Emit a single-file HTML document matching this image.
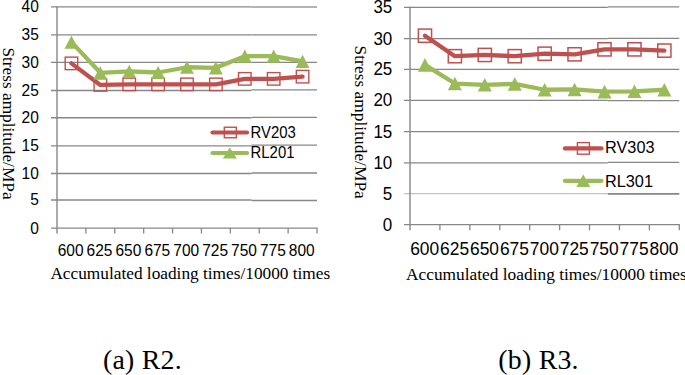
<!DOCTYPE html>
<html><head><meta charset="utf-8"><style>
html,body{margin:0;padding:0;background:#fff;overflow:hidden;width:685px;height:375px;}
svg{display:block;}
.s{font-family:"Liberation Sans",sans-serif;fill:#000;}
.t{font-family:"Liberation Serif",serif;fill:#000;}
</style></head><body>
<svg width="685" height="375" viewBox="0 0 685 375">
<rect width="685" height="375" fill="#fff"/>
<line x1="51.00" y1="200.00" x2="251.50" y2="200.00" stroke="#878787" stroke-width="1.3"/>
<line x1="251.50" y1="200.50" x2="317.00" y2="200.50" stroke="#878787" stroke-width="1.3"/>
<line x1="51.00" y1="173.50" x2="251.50" y2="173.50" stroke="#878787" stroke-width="1.3"/>
<line x1="251.50" y1="173.00" x2="317.00" y2="173.00" stroke="#878787" stroke-width="1.3"/>
<line x1="51.00" y1="145.90" x2="251.50" y2="145.90" stroke="#878787" stroke-width="1.3"/>
<line x1="251.50" y1="145.10" x2="317.00" y2="145.10" stroke="#878787" stroke-width="1.3"/>
<line x1="51.00" y1="117.80" x2="251.50" y2="117.80" stroke="#878787" stroke-width="1.5"/>
<line x1="251.50" y1="117.40" x2="317.00" y2="117.40" stroke="#878787" stroke-width="1.3"/>
<line x1="51.00" y1="90.50" x2="251.50" y2="90.50" stroke="#878787" stroke-width="1.3"/>
<line x1="251.50" y1="89.80" x2="317.00" y2="89.80" stroke="#878787" stroke-width="1.3"/>
<line x1="51.00" y1="62.40" x2="251.50" y2="62.40" stroke="#878787" stroke-width="1.3"/>
<line x1="251.50" y1="62.30" x2="317.00" y2="62.30" stroke="#878787" stroke-width="1.3"/>
<line x1="51.00" y1="34.90" x2="251.50" y2="34.90" stroke="#878787" stroke-width="1.3"/>
<line x1="251.50" y1="34.80" x2="317.00" y2="34.80" stroke="#878787" stroke-width="1.3"/>
<line x1="51.00" y1="6.95" x2="251.50" y2="6.95" stroke="#878787" stroke-width="1.3"/>
<line x1="251.50" y1="6.90" x2="317.00" y2="6.90" stroke="#9a9a9a" stroke-width="1.5"/>
<line x1="51.00" y1="228.10" x2="317.60" y2="228.10" stroke="#878787" stroke-width="1.3"/>
<line x1="57.00" y1="6.35" x2="57.00" y2="233.50" stroke="#878787" stroke-width="1.4"/>
<line x1="85.89" y1="228.10" x2="85.89" y2="233.50" stroke="#878787" stroke-width="1.3"/>
<line x1="114.78" y1="228.10" x2="114.78" y2="233.50" stroke="#878787" stroke-width="1.3"/>
<line x1="143.67" y1="228.10" x2="143.67" y2="233.50" stroke="#878787" stroke-width="1.3"/>
<line x1="172.56" y1="228.10" x2="172.56" y2="233.50" stroke="#878787" stroke-width="1.3"/>
<line x1="201.44" y1="228.10" x2="201.44" y2="233.50" stroke="#878787" stroke-width="1.3"/>
<line x1="230.33" y1="228.10" x2="230.33" y2="233.50" stroke="#878787" stroke-width="1.3"/>
<line x1="259.22" y1="228.10" x2="259.22" y2="233.50" stroke="#878787" stroke-width="1.3"/>
<line x1="288.11" y1="228.10" x2="288.11" y2="233.50" stroke="#878787" stroke-width="1.3"/>
<line x1="317.00" y1="228.10" x2="317.00" y2="233.50" stroke="#878787" stroke-width="1.3"/>
<text transform="translate(38.80,233.50) scale(1,1.03)" text-anchor="end" class="s" font-size="15.5">0</text>
<text transform="translate(38.80,205.40) scale(1,1.03)" text-anchor="end" class="s" font-size="15.5">5</text>
<text transform="translate(38.80,178.90) scale(1,1.03)" text-anchor="end" class="s" font-size="15.5">10</text>
<text transform="translate(38.80,151.30) scale(1,1.03)" text-anchor="end" class="s" font-size="15.5">15</text>
<text transform="translate(38.80,123.20) scale(1,1.03)" text-anchor="end" class="s" font-size="15.5">20</text>
<text transform="translate(38.80,95.90) scale(1,1.03)" text-anchor="end" class="s" font-size="15.5">25</text>
<text transform="translate(38.80,67.80) scale(1,1.03)" text-anchor="end" class="s" font-size="15.5">30</text>
<text transform="translate(38.80,40.30) scale(1,1.03)" text-anchor="end" class="s" font-size="15.5">35</text>
<text transform="translate(38.80,12.35) scale(1,1.03)" text-anchor="end" class="s" font-size="15.5">40</text>
<text transform="translate(70.64,256.00) scale(1,1.03)" text-anchor="middle" class="s" font-size="15.5">600</text>
<text transform="translate(99.53,256.00) scale(1,1.03)" text-anchor="middle" class="s" font-size="15.5">625</text>
<text transform="translate(128.42,256.00) scale(1,1.03)" text-anchor="middle" class="s" font-size="15.5">650</text>
<text transform="translate(157.31,256.00) scale(1,1.03)" text-anchor="middle" class="s" font-size="15.5">675</text>
<text transform="translate(186.20,256.00) scale(1,1.03)" text-anchor="middle" class="s" font-size="15.5">700</text>
<text transform="translate(215.09,256.00) scale(1,1.03)" text-anchor="middle" class="s" font-size="15.5">725</text>
<text transform="translate(243.98,256.00) scale(1,1.03)" text-anchor="middle" class="s" font-size="15.5">750</text>
<text transform="translate(272.87,256.00) scale(1,1.03)" text-anchor="middle" class="s" font-size="15.5">775</text>
<text transform="translate(301.76,256.00) scale(1,1.03)" text-anchor="middle" class="s" font-size="15.5">800</text>
<polyline points="71.44,63.38 100.33,84.94 129.22,84.38 158.11,84.38 187.00,84.38 215.89,84.38 244.78,78.86 273.67,78.86 302.56,76.65" fill="none" stroke="#C0504D" stroke-width="4.3" stroke-linejoin="round" stroke-linecap="round"/>
<rect x="65.19" y="57.13" width="12.5" height="12.5" fill="none" stroke="#C0504D" stroke-width="1.4"/>
<rect x="94.08" y="78.69" width="12.5" height="12.5" fill="none" stroke="#C0504D" stroke-width="1.4"/>
<rect x="122.97" y="78.13" width="12.5" height="12.5" fill="none" stroke="#C0504D" stroke-width="1.4"/>
<rect x="151.86" y="78.13" width="12.5" height="12.5" fill="none" stroke="#C0504D" stroke-width="1.4"/>
<rect x="180.75" y="78.13" width="12.5" height="12.5" fill="none" stroke="#C0504D" stroke-width="1.4"/>
<rect x="209.64" y="78.13" width="12.5" height="12.5" fill="none" stroke="#C0504D" stroke-width="1.4"/>
<rect x="238.53" y="72.61" width="12.5" height="12.5" fill="none" stroke="#C0504D" stroke-width="1.4"/>
<rect x="267.42" y="72.61" width="12.5" height="12.5" fill="none" stroke="#C0504D" stroke-width="1.4"/>
<rect x="296.31" y="70.40" width="12.5" height="12.5" fill="none" stroke="#C0504D" stroke-width="1.4"/>
<polyline points="71.44,42.10 100.33,72.78 129.22,71.40 158.11,72.50 187.00,67.25 215.89,67.80 244.78,56.19 273.67,56.19 302.56,61.45" fill="none" stroke="#9BBB59" stroke-width="4.3" stroke-linejoin="round" stroke-linecap="round"/>
<polygon points="71.44,35.50 78.34,48.70 64.54,48.70" fill="#9BBB59"/>
<polygon points="100.33,66.18 107.23,79.38 93.43,79.38" fill="#9BBB59"/>
<polygon points="129.22,64.80 136.12,78.00 122.32,78.00" fill="#9BBB59"/>
<polygon points="158.11,65.90 165.01,79.10 151.21,79.10" fill="#9BBB59"/>
<polygon points="187.00,60.65 193.90,73.85 180.10,73.85" fill="#9BBB59"/>
<polygon points="215.89,61.20 222.79,74.40 208.99,74.40" fill="#9BBB59"/>
<polygon points="244.78,49.59 251.68,62.79 237.88,62.79" fill="#9BBB59"/>
<polygon points="273.67,49.59 280.57,62.79 266.77,62.79" fill="#9BBB59"/>
<polygon points="302.56,54.85 309.46,68.05 295.66,68.05" fill="#9BBB59"/>
<line x1="212.50" y1="132.50" x2="247.00" y2="132.50" stroke="#C0504D" stroke-width="4.2" stroke-linecap="round"/>
<rect x="224.30" y="127.25" width="12" height="10.5" fill="none" stroke="#C0504D" stroke-width="1.4"/>
<line x1="212.50" y1="153.00" x2="247.00" y2="153.00" stroke="#9BBB59" stroke-width="4.2" stroke-linecap="round"/>
<polygon points="229.80,147.50 236.80,158.50 222.80,158.50" fill="#9BBB59"/>
<text transform="translate(250.60,137.80) scale(0.98,1.08)" class="s" font-size="15.2">RV203</text>
<text transform="translate(250.60,157.90) scale(0.98,1.08)" class="s" font-size="15.2">RL201</text>
<line x1="404.00" y1="193.65" x2="607.80" y2="193.65" stroke="#c4c4c4" stroke-width="1.2"/>
<line x1="607.80" y1="193.85" x2="679.30" y2="193.85" stroke="#878787" stroke-width="1.6"/>
<line x1="404.00" y1="162.90" x2="607.80" y2="162.90" stroke="#878787" stroke-width="1.4"/>
<line x1="607.80" y1="162.40" x2="679.30" y2="162.40" stroke="#878787" stroke-width="1.2"/>
<line x1="404.00" y1="131.70" x2="607.80" y2="131.70" stroke="#878787" stroke-width="1.3"/>
<line x1="607.80" y1="131.60" x2="679.30" y2="131.60" stroke="#878787" stroke-width="1.3"/>
<line x1="404.00" y1="100.30" x2="607.80" y2="100.30" stroke="#878787" stroke-width="1.3"/>
<line x1="607.80" y1="100.60" x2="679.30" y2="100.60" stroke="#878787" stroke-width="1.4"/>
<line x1="404.00" y1="69.30" x2="607.80" y2="69.30" stroke="#878787" stroke-width="1.3"/>
<line x1="607.80" y1="69.30" x2="679.30" y2="69.30" stroke="#878787" stroke-width="1.3"/>
<line x1="404.00" y1="38.70" x2="607.80" y2="38.70" stroke="#878787" stroke-width="1.3"/>
<line x1="607.80" y1="38.40" x2="679.30" y2="38.40" stroke="#878787" stroke-width="1.3"/>
<line x1="404.00" y1="7.30" x2="607.80" y2="7.30" stroke="#878787" stroke-width="1.3"/>
<line x1="607.80" y1="6.90" x2="679.30" y2="6.90" stroke="#878787" stroke-width="1.3"/>
<line x1="404.00" y1="224.60" x2="679.90" y2="224.60" stroke="#878787" stroke-width="1.3"/>
<line x1="410.00" y1="6.70" x2="410.00" y2="230.30" stroke="#878787" stroke-width="1.4"/>
<line x1="439.92" y1="224.60" x2="439.92" y2="230.30" stroke="#878787" stroke-width="1.3"/>
<line x1="469.84" y1="224.60" x2="469.84" y2="230.30" stroke="#878787" stroke-width="1.3"/>
<line x1="499.77" y1="224.60" x2="499.77" y2="230.30" stroke="#878787" stroke-width="1.3"/>
<line x1="529.69" y1="224.60" x2="529.69" y2="230.30" stroke="#878787" stroke-width="1.3"/>
<line x1="559.61" y1="224.60" x2="559.61" y2="230.30" stroke="#878787" stroke-width="1.3"/>
<line x1="589.53" y1="224.60" x2="589.53" y2="230.30" stroke="#878787" stroke-width="1.3"/>
<line x1="619.46" y1="224.60" x2="619.46" y2="230.30" stroke="#878787" stroke-width="1.3"/>
<line x1="649.38" y1="224.60" x2="649.38" y2="230.30" stroke="#878787" stroke-width="1.3"/>
<line x1="679.30" y1="224.60" x2="679.30" y2="230.30" stroke="#878787" stroke-width="1.3"/>
<text transform="translate(392.30,230.60) scale(1,1.06)" text-anchor="end" class="s" font-size="17">0</text>
<text transform="translate(392.30,199.65) scale(1,1.06)" text-anchor="end" class="s" font-size="17">5</text>
<text transform="translate(392.30,168.90) scale(1,1.06)" text-anchor="end" class="s" font-size="17">10</text>
<text transform="translate(392.30,137.70) scale(1,1.06)" text-anchor="end" class="s" font-size="17">15</text>
<text transform="translate(392.30,106.30) scale(1,1.06)" text-anchor="end" class="s" font-size="17">20</text>
<text transform="translate(392.30,75.30) scale(1,1.06)" text-anchor="end" class="s" font-size="17">25</text>
<text transform="translate(392.30,44.70) scale(1,1.06)" text-anchor="end" class="s" font-size="17">30</text>
<text transform="translate(392.30,13.30) scale(1,1.06)" text-anchor="end" class="s" font-size="17">35</text>
<text transform="translate(424.66,255.00) scale(1,1.06)" text-anchor="middle" class="s" font-size="17.4">600</text>
<text transform="translate(454.58,255.00) scale(1,1.06)" text-anchor="middle" class="s" font-size="17.4">625</text>
<text transform="translate(484.51,255.00) scale(1,1.06)" text-anchor="middle" class="s" font-size="17.4">650</text>
<text transform="translate(514.43,255.00) scale(1,1.06)" text-anchor="middle" class="s" font-size="17.4">675</text>
<text transform="translate(544.35,255.00) scale(1,1.06)" text-anchor="middle" class="s" font-size="17.4">700</text>
<text transform="translate(574.27,255.00) scale(1,1.06)" text-anchor="middle" class="s" font-size="17.4">725</text>
<text transform="translate(604.19,255.00) scale(1,1.06)" text-anchor="middle" class="s" font-size="17.4">750</text>
<text transform="translate(634.12,255.00) scale(1,1.06)" text-anchor="middle" class="s" font-size="17.4">775</text>
<text transform="translate(664.04,255.00) scale(1,1.06)" text-anchor="middle" class="s" font-size="17.4">800</text>
<polyline points="424.96,35.69 454.88,56.19 484.81,54.95 514.73,56.19 544.65,53.71 574.57,54.33 604.49,49.36 634.42,49.36 664.34,50.60" fill="none" stroke="#C0504D" stroke-width="4.3" stroke-linejoin="round" stroke-linecap="round"/>
<rect x="418.36" y="29.09" width="13.2" height="13.2" fill="none" stroke="#C0504D" stroke-width="1.5"/>
<rect x="448.28" y="49.59" width="13.2" height="13.2" fill="none" stroke="#C0504D" stroke-width="1.5"/>
<rect x="478.21" y="48.35" width="13.2" height="13.2" fill="none" stroke="#C0504D" stroke-width="1.5"/>
<rect x="508.13" y="49.59" width="13.2" height="13.2" fill="none" stroke="#C0504D" stroke-width="1.5"/>
<rect x="538.05" y="47.11" width="13.2" height="13.2" fill="none" stroke="#C0504D" stroke-width="1.5"/>
<rect x="567.97" y="47.73" width="13.2" height="13.2" fill="none" stroke="#C0504D" stroke-width="1.5"/>
<rect x="597.89" y="42.76" width="13.2" height="13.2" fill="none" stroke="#C0504D" stroke-width="1.5"/>
<rect x="627.82" y="42.76" width="13.2" height="13.2" fill="none" stroke="#C0504D" stroke-width="1.5"/>
<rect x="657.74" y="44.00" width="13.2" height="13.2" fill="none" stroke="#C0504D" stroke-width="1.5"/>
<polyline points="424.96,64.89 454.88,83.54 484.81,84.78 514.73,83.85 544.65,89.75 574.57,89.44 604.49,91.61 634.42,91.30 664.34,89.75" fill="none" stroke="#9BBB59" stroke-width="4.3" stroke-linejoin="round" stroke-linecap="round"/>
<polygon points="424.96,58.09 431.96,71.69 417.96,71.69" fill="#9BBB59"/>
<polygon points="454.88,76.74 461.88,90.34 447.88,90.34" fill="#9BBB59"/>
<polygon points="484.81,77.98 491.81,91.58 477.81,91.58" fill="#9BBB59"/>
<polygon points="514.73,77.05 521.73,90.65 507.73,90.65" fill="#9BBB59"/>
<polygon points="544.65,82.95 551.65,96.55 537.65,96.55" fill="#9BBB59"/>
<polygon points="574.57,82.64 581.57,96.24 567.57,96.24" fill="#9BBB59"/>
<polygon points="604.49,84.81 611.49,98.41 597.49,98.41" fill="#9BBB59"/>
<polygon points="634.42,84.50 641.42,98.10 627.42,98.10" fill="#9BBB59"/>
<polygon points="664.34,82.95 671.34,96.55 657.34,96.55" fill="#9BBB59"/>
<line x1="564.90" y1="148.40" x2="601.50" y2="148.40" stroke="#C0504D" stroke-width="4.2" stroke-linecap="round"/>
<rect x="577.40" y="142.60" width="12" height="11.6" fill="none" stroke="#C0504D" stroke-width="1.4"/>
<line x1="564.90" y1="180.80" x2="601.50" y2="180.80" stroke="#9BBB59" stroke-width="4.2" stroke-linecap="round"/>
<polygon points="583.30,174.55 590.30,187.05 576.30,187.05" fill="#9BBB59"/>
<text transform="translate(605.00,153.30) scale(1.0,1.0)" class="s" font-size="16.3">RV303</text>
<text transform="translate(605.00,186.70) scale(1.0,1.0)" class="s" font-size="16.3">RL301</text>
<text class="t" font-size="17.3" transform="translate(3,47.4) rotate(90)">Stress amplitude/MPa</text>
<text class="t" font-size="17.3" transform="translate(354.5,45.6) rotate(90)" letter-spacing="0.05">Stress amplitude/MPa</text>
<text class="t" font-size="17.3" x="50.4" y="279.4">Accumulated loading times/10000 times</text>
<text class="t" font-size="17.35" x="406" y="279.5">Accumulated loading times/10000 times</text>
<text class="t" font-size="27.8" x="103" y="368.5" letter-spacing="0.25">(a) R2.</text>
<text class="t" font-size="27.8" x="498.3" y="368.5" letter-spacing="0.25">(b) R3.</text>
</svg>
</body></html>
